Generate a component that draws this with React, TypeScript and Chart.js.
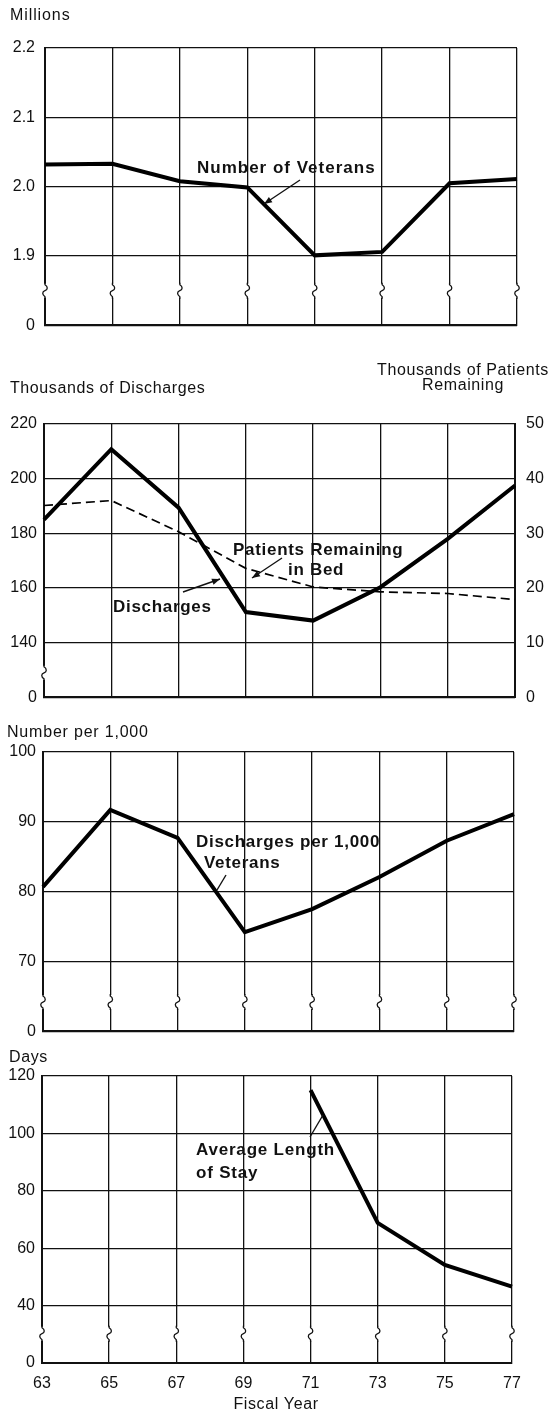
import React, { useEffect, useRef } from 'react';
import { Chart, registerables } from 'chart.js';

Chart.register(...registerables);

// ---------- data ----------
const fiscalYears = ['63', '65', '67', '69', '71', '73', '75', '77'];

const veteransMillions = [2.032, 2.033, 2.008, 1.999, 1.901, 1.906, 2.005, 2.011];
const veteransTicks = ['0', '1.9', '2.0', '2.1', '2.2'];

const dischargesThousands = [185, 210.8, 189.4, 151.2, 148.1, 160.3, 178, 197.5];
const dischargesTicks = ['0', '140', '160', '180', '200', '220'];
const patientsRemainingThousands = [35.1, 36, 30.3, 23.6, 20.2, 19.3, 19, 17.9];
const patientsTicks = ['0', '10', '20', '30', '40', '50'];

const dischargesPer1000 = [80.7, 91.7, 87.7, 74.2, 77.5, 82.1, 87.3, 91.1];
const per1000Ticks = ['0', '70', '80', '90', '100'];

const avgStayDays: (number | null)[] = [null, null, null, null, 115.1, 68.8, 54.2, 46.6];
const stayTicks = ['0', '40', '60', '80', '100', '120'];

// ---------- helpers ----------
const FAMILY = '"Liberation Sans", Arial, Helvetica, sans-serif';
const INK = '#111';
const tickFont = { family: FAMILY, size: 16 };

// broken axis: first tick is 0, the rest are evenly spaced
function brokenMap(ticks: string[]) {
  const nums = ticks.map(Number);
  const first = nums[1];
  const step = nums[2] - nums[1];
  return (v: number | null) => (v == null ? null : v <= 0 ? 0 : 1 + (v - first) / step);
}

function brokenY(labels: string[], width: number, pad: number) {
  return {
    type: 'linear',
    position: 'left',
    min: 0,
    max: labels.length - 1,
    ticks: {
      stepSize: 1,
      padding: pad,
      color: INK,
      font: tickFont,
      callback: (v: number) => labels[Math.round(v)] ?? '',
    },
    grid: { color: INK, lineWidth: 1.3, drawTicks: false },
    border: { display: true, color: INK, width: 2 },
    afterFit: (a: any) => {
      a.width = width;
    },
  };
}

function xAxis(show: boolean) {
  return {
    type: 'category',
    offset: false,
    grid: { color: INK, lineWidth: 1.3, drawTicks: false, offset: false },
    border: { display: true, color: INK, width: 2 },
    ticks: {
      display: show,
      padding: 11,
      font: tickFont,
      color: INK,
      maxRotation: 0,
      autoSkip: false,
    },
    afterFit: (a: any) => {
      a.height = show ? 52 : 0;
    },
  };
}

type TextAnn = { t: string; x: number; y: number; bold?: boolean; size?: number; ls?: number; align?: CanvasTextAlign };
type ArrowAnn = { x1: number; y1: number; x2: number; y2: number; head: boolean };
type Decor = {
  top: number;
  texts: TextAnn[];
  arrows: ArrowAnn[];
  breakAt: number;
  breakAll: boolean;
};

function decorPlugin(d: Decor) {
  return {
    id: 'decor',
    beforeInit(chart: any) {
      chart.ctx.letterSpacing = '0.5px';
    },
    beforeDatasetsDraw(chart: any) {
      const ctx = chart.ctx as CanvasRenderingContext2D;
      const ys = chart.scales.y;
      const xs = chart.scales.x;
      const yp = ys.getPixelForValue(d.breakAt);
      const xList = d.breakAll ? fiscalYears.map((_, i) => xs.getPixelForValue(i)) : [xs.getPixelForValue(0)];
      ctx.save();
      for (const x of xList) {
        ctx.fillStyle = '#fff';
        ctx.fillRect(x - 3, yp - 7, 6, 14);
        ctx.strokeStyle = INK;
        ctx.lineWidth = 1.3;
        ctx.beginPath();
        ctx.moveTo(x, yp - 8);
        ctx.lineTo(x, yp - 6);
        ctx.bezierCurveTo(x + 3, yp - 4, x + 3, yp - 1, x, yp);
        ctx.bezierCurveTo(x - 3, yp + 1, x - 3, yp + 4, x, yp + 6);
        ctx.lineTo(x, yp + 8);
        ctx.stroke();
      }
      ctx.restore();
    },
    afterDraw(chart: any) {
      const ctx = chart.ctx as CanvasRenderingContext2D;
      ctx.save();
      ctx.fillStyle = INK;
      ctx.strokeStyle = INK;
      ctx.textBaseline = 'middle';
      for (const a of d.texts) {
        ctx.font = `${a.bold ? 'bold ' : ''}${a.size ?? 16}px ${FAMILY}`;
        (ctx as any).letterSpacing = `${a.ls ?? 0.6}px`;
        ctx.textAlign = a.align ?? 'left';
        ctx.fillText(a.t, a.x, a.y - d.top);
      }
      for (const ar of d.arrows) {
        const y1 = ar.y1 - d.top;
        const y2 = ar.y2 - d.top;
        ctx.lineWidth = 1.4;
        ctx.beginPath();
        ctx.moveTo(ar.x1, y1);
        ctx.lineTo(ar.x2, y2);
        ctx.stroke();
        if (ar.head) {
          const ang = Math.atan2(y2 - y1, ar.x2 - ar.x1);
          const L = 8;
          const W = 3.2;
          const bx = ar.x2 - L * Math.cos(ang);
          const by = y2 - L * Math.sin(ang);
          ctx.beginPath();
          ctx.moveTo(ar.x2, y2);
          ctx.lineTo(bx + W * Math.sin(ang), by - W * Math.cos(ang));
          ctx.lineTo(bx - W * Math.sin(ang), by + W * Math.cos(ang));
          ctx.closePath();
          ctx.fill();
        }
      }
      ctx.restore();
    },
  };
}

const solid = (data: (number | null)[], extra: any = {}) => ({
  data,
  borderColor: '#000',
  borderWidth: 4,
  pointRadius: 0,
  tension: 0,
  fill: false,
  spanGaps: false,
  ...extra,
});

function baseOptions(padding: any, scales: any) {
  return {
    animation: false,
    responsive: false,
    events: [],
    layout: { padding },
    plugins: { legend: { display: false }, tooltip: { enabled: false }, title: { display: false } },
    scales,
  };
}

// ---------- panels ----------
const P1_TOP = 0, P1_H = 345;
const P2_TOP = 345, P2_H = 373;
const P3_TOP = 718, P3_H = 330;
const P4_TOP = 1048, P4_H = 367;

function config1(): any {
  const m = brokenMap(veteransTicks);
  return {
    type: 'line',
    data: { labels: fiscalYears, datasets: [solid(veteransMillions.map(m))] },
    options: baseOptions({ top: 48, bottom: 12, left: 0, right: 33 }, { x: xAxis(false), y: brokenY(veteransTicks, 45, 10) }),
    plugins: [
      decorPlugin({
        top: P1_TOP,
        breakAt: 0.5,
        breakAll: true,
        texts: [
          { t: 'Millions', x: 10, y: 16, ls: 0.9 },
          { t: 'Number of Veterans', x: 197, y: 168, bold: true, size: 17, ls: 1 },
        ],
        arrows: [{ x1: 300, y1: 180, x2: 264, y2: 204, head: true }],
      }),
    ],
  };
}

function config2(): any {
  const m = brokenMap(dischargesTicks);
  const maxP = Number(patientsTicks[patientsTicks.length - 1]);
  return {
    type: 'line',
    data: {
      labels: fiscalYears,
      datasets: [
        solid(dischargesThousands.map(m), { yAxisID: 'y' }),
        {
          data: patientsRemainingThousands,
          yAxisID: 'y1',
          borderColor: '#000',
          borderWidth: 1.7,
          borderDash: [9, 5],
          pointRadius: 0,
          tension: 0,
          fill: false,
        },
      ],
    },
    options: baseOptions(
      { top: 79, bottom: 9, left: 0, right: 0 },
      {
        x: xAxis(false),
        y: brokenY(dischargesTicks, 44, 7),
        y1: {
          type: 'linear',
          position: 'right',
          min: 0,
          max: maxP,
          ticks: { stepSize: 10, padding: 11, color: INK, font: tickFont, callback: (v: number) => String(v) },
          grid: { drawOnChartArea: false, drawTicks: false },
          border: { display: true, color: INK, width: 2 },
          afterFit: (a: any) => {
            a.width = 35;
          },
        },
      }
    ),
    plugins: [
      decorPlugin({
        top: P2_TOP,
        breakAt: 0.45,
        breakAll: false,
        texts: [
          { t: 'Thousands of Discharges', x: 10, y: 389, ls: 0.6 },
          { t: 'Thousands of Patients', x: 463, y: 371, ls: 0.6, align: 'center' },
          { t: 'Remaining', x: 463, y: 386, ls: 0.6, align: 'center' },
          { t: 'Patients Remaining', x: 233, y: 550, bold: true, size: 17, ls: 0.7 },
          { t: 'in Bed', x: 288, y: 570, bold: true, size: 17, ls: 0.7 },
          { t: 'Discharges', x: 113, y: 607, bold: true, size: 17, ls: 0.7 },
        ],
        arrows: [
          { x1: 282, y1: 558, x2: 252, y2: 578, head: true },
          { x1: 183, y1: 592, x2: 220, y2: 579, head: true },
        ],
      }),
    ],
  };
}

function config3(): any {
  const m = brokenMap(per1000Ticks);
  return {
    type: 'line',
    data: { labels: fiscalYears, datasets: [solid(dischargesPer1000.map(m))] },
    options: baseOptions({ top: 34, bottom: 10, left: 0, right: 36 }, { x: xAxis(false), y: brokenY(per1000Ticks, 43, 7) }),
    plugins: [
      decorPlugin({
        top: P3_TOP,
        breakAt: 0.42,
        breakAll: true,
        texts: [
          { t: 'Number per 1,000', x: 7, y: 733, ls: 0.8 },
          { t: 'Discharges per 1,000', x: 196, y: 842, bold: true, size: 17, ls: 0.7 },
          { t: 'Veterans', x: 204, y: 863, bold: true, size: 17, ls: 0.7 },
        ],
        arrows: [{ x1: 226, y1: 875, x2: 217, y2: 890, head: false }],
      }),
    ],
  };
}

function config4(): any {
  const m = brokenMap(stayTicks);
  return {
    type: 'line',
    data: { labels: fiscalYears, datasets: [solid(avgStayDays.map(m))] },
    options: baseOptions({ top: 28, bottom: 0, left: 0, right: 38 }, { x: xAxis(true), y: brokenY(stayTicks, 42, 7) }),
    plugins: [
      decorPlugin({
        top: P4_TOP,
        breakAt: 0.51,
        breakAll: true,
        texts: [
          { t: 'Days', x: 9, y: 1058, ls: 0.6 },
          { t: 'Average Length', x: 196, y: 1150, bold: true, size: 17, ls: 0.8 },
          { t: 'of Stay', x: 196, y: 1173, bold: true, size: 17, ls: 0.8 },
          { t: 'Fiscal Year', x: 276, y: 1405, ls: 0.6, align: 'center' },
        ],
        arrows: [{ x1: 323, y1: 1115, x2: 310, y2: 1137, head: false }],
      }),
    ],
  };
}

export default function App() {
  const r1 = useRef<HTMLCanvasElement>(null);
  const r2 = useRef<HTMLCanvasElement>(null);
  const r3 = useRef<HTMLCanvasElement>(null);
  const r4 = useRef<HTMLCanvasElement>(null);

  useEffect(() => {
    const charts = [
      new Chart(r1.current as HTMLCanvasElement, config1()),
      new Chart(r2.current as HTMLCanvasElement, config2()),
      new Chart(r3.current as HTMLCanvasElement, config3()),
      new Chart(r4.current as HTMLCanvasElement, config4()),
    ];
    return () => charts.forEach((c) => c.destroy());
  }, []);

  const cv = (top: number, h: number): React.CSSProperties => ({
    position: 'absolute',
    left: 0,
    top,
    width: 550,
    height: h,
    display: 'block',
  });

  return (
    <div style={{ position: 'absolute', left: 0, top: 0, width: 550, height: 1415, background: '#fff', overflow: 'hidden' }}>
      <canvas ref={r1} width={550} height={P1_H} style={cv(P1_TOP, P1_H)} />
      <canvas ref={r2} width={550} height={P2_H} style={cv(P2_TOP, P2_H)} />
      <canvas ref={r3} width={550} height={P3_H} style={cv(P3_TOP, P3_H)} />
      <canvas ref={r4} width={550} height={P4_H} style={cv(P4_TOP, P4_H)} />
    </div>
  );
}
